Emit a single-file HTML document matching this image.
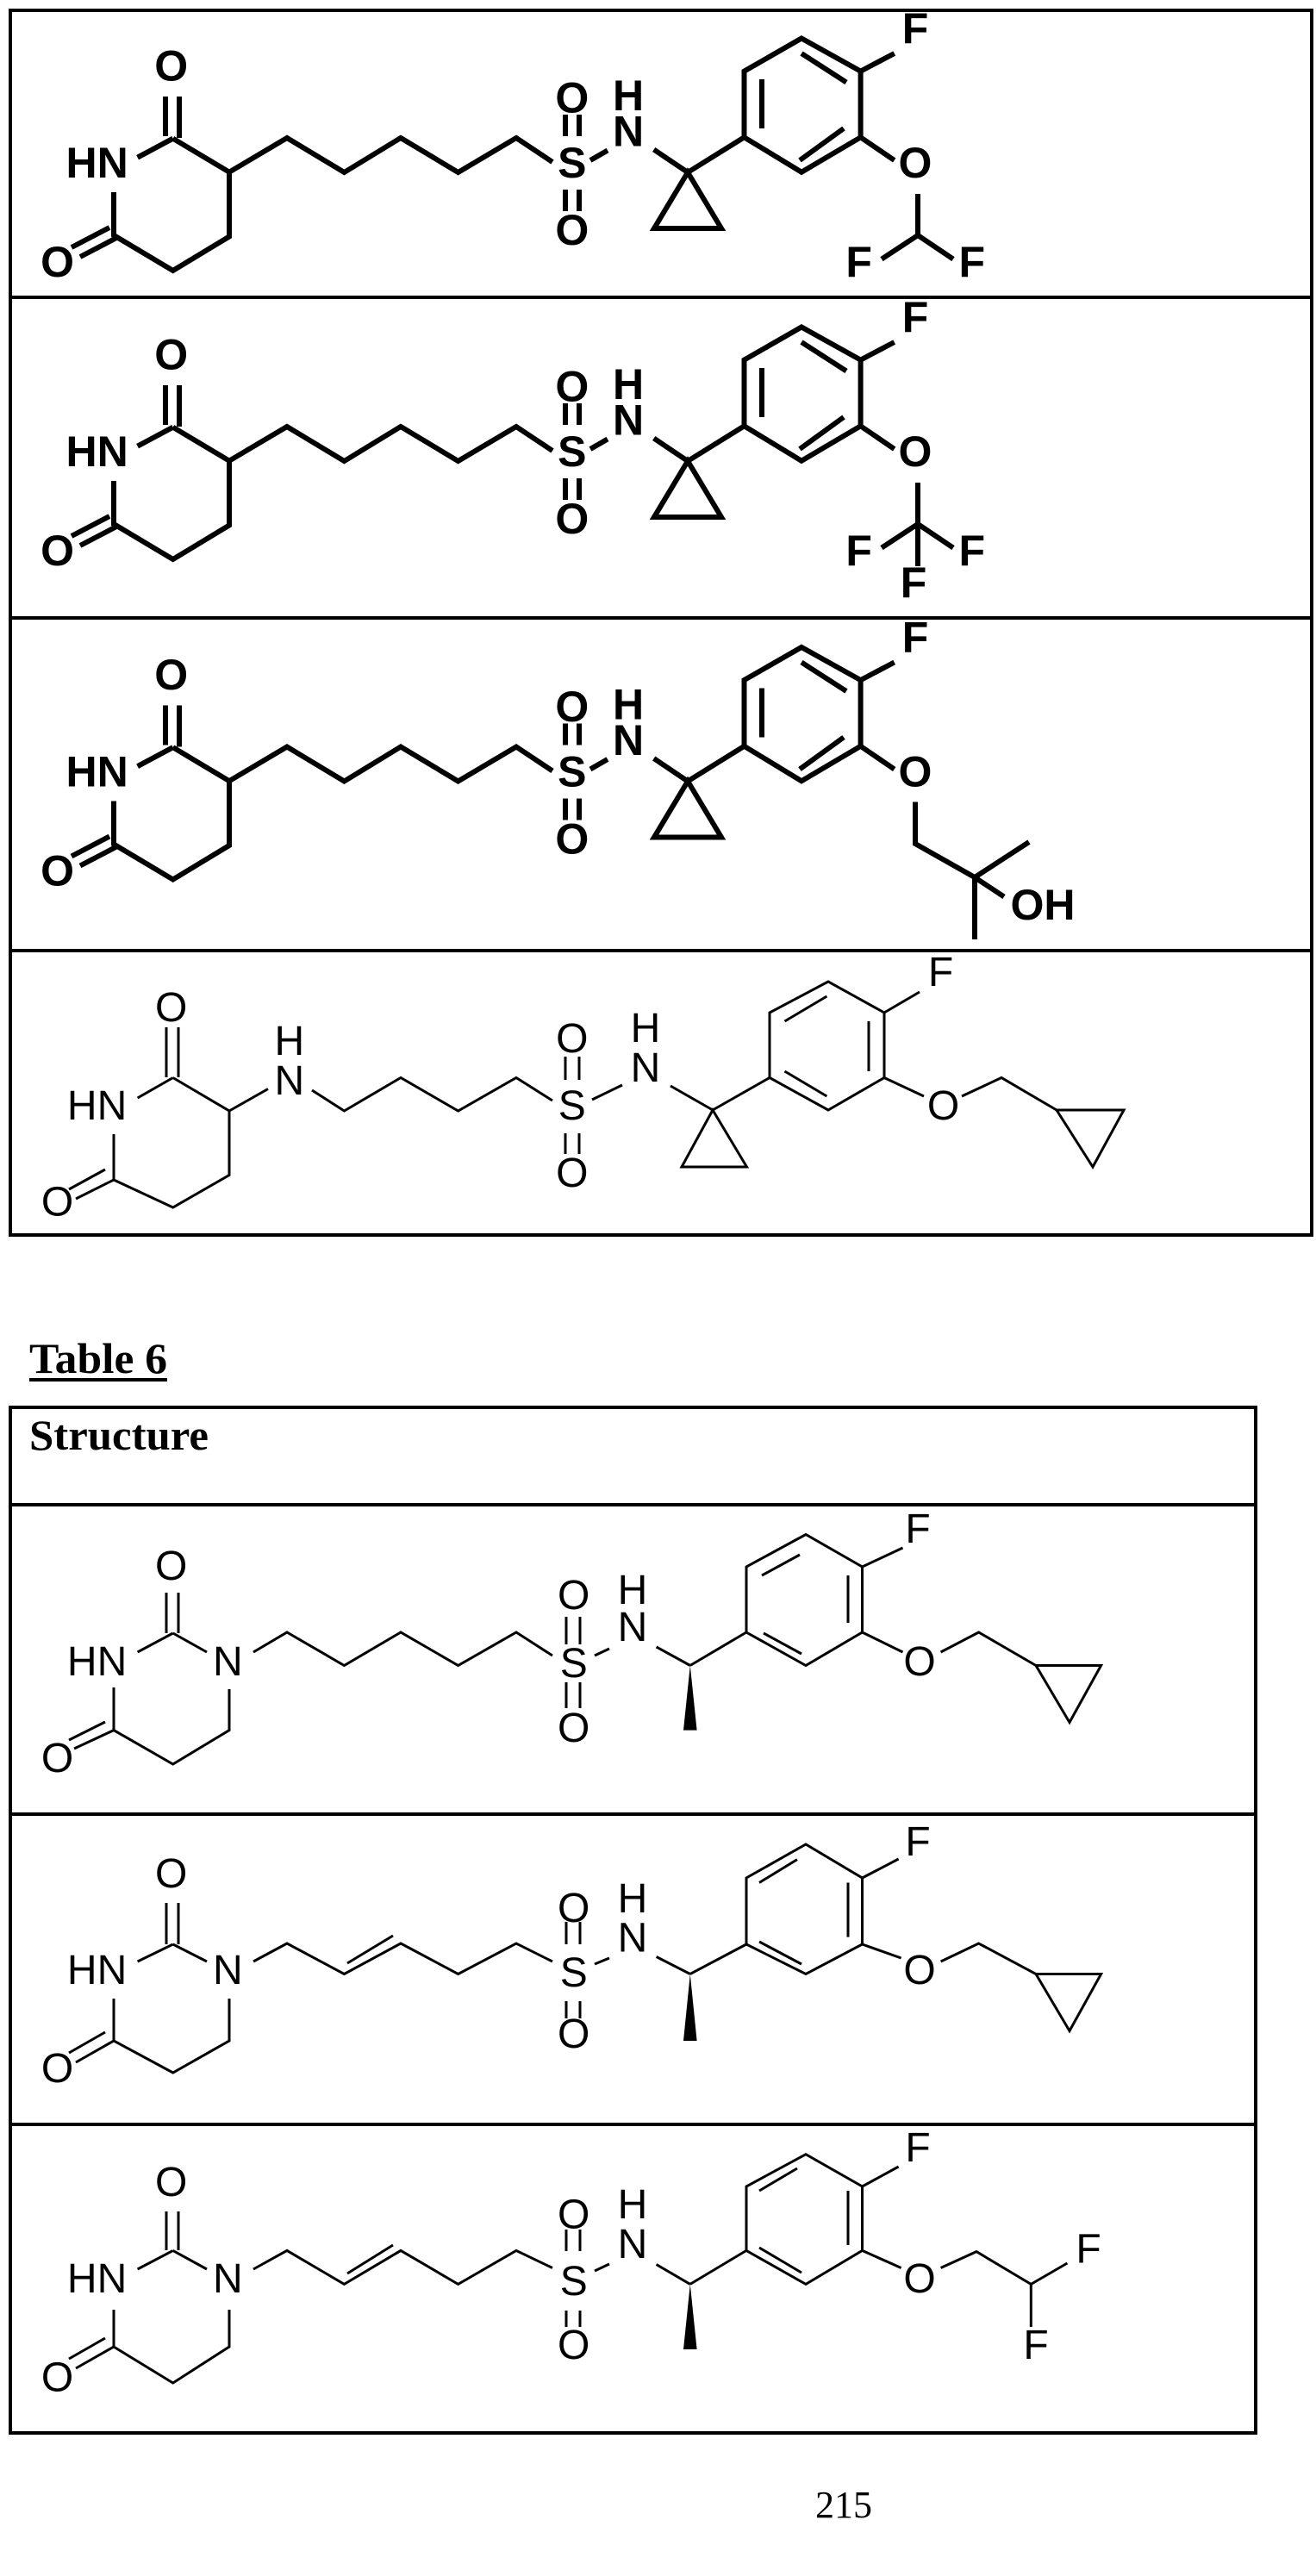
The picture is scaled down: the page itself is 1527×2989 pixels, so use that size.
<!DOCTYPE html>
<html><head><meta charset="utf-8"><style>
html,body{margin:0;padding:0;background:#fff;}
svg{display:block;}
.b{stroke:#000;stroke-width:6;fill:none;stroke-linejoin:miter;}
.t{stroke:#000;stroke-width:3;fill:none;stroke-linejoin:miter;}
.bt{font-family:"Liberation Sans",sans-serif;font-weight:bold;font-size:50px;text-anchor:middle;}
.tt{font-family:"Liberation Sans",sans-serif;font-size:48px;text-anchor:middle;}
.sf{font-family:"Liberation Serif",serif;font-weight:bold;font-size:50px;}
</style></head><body>
<svg width="1527" height="2989" viewBox="0 0 1527 2989" xmlns="http://www.w3.org/2000/svg">
<rect x="0" y="0" width="1527" height="2989" fill="#fff"/>
<g stroke="#000" stroke-width="4" fill="none">
<rect x="12" y="12" width="1510" height="1421"/>
<line x1="12" y1="345" x2="1522" y2="345"/>
<line x1="12" y1="717" x2="1522" y2="717"/>
<line x1="12" y1="1103" x2="1522" y2="1103"/>
</g>
<g stroke="#000" stroke-width="4" fill="none">
<rect x="12" y="1633" width="1445" height="1190"/>
<line x1="12" y1="1746" x2="1457" y2="1746"/>
<line x1="12" y1="2105" x2="1457" y2="2105"/>
<line x1="12" y1="2465" x2="1457" y2="2465"/>
</g>
<text class="sf" x="34" y="1593" textLength="160" lengthAdjust="spacingAndGlyphs">Table 6</text>
<rect x="34" y="1599" width="160" height="4" fill="#000"/>
<text class="sf" x="34" y="1682" textLength="208" lengthAdjust="spacingAndGlyphs">Structure</text>
<text x="979" y="2921" font-family="Liberation Serif,serif" font-size="44" text-anchor="middle">215</text>

<g id="r1">
<g class="b">
<line x1="159.6" y1="182.7" x2="200.7" y2="160.7"/>
<line x1="192" y1="112" x2="192" y2="158"/>
<line x1="208" y1="112" x2="208" y2="160"/>
<polyline points="200.7,160.7 266,199.7 266,274.5 200.7,314 132,273 132,223"/>
<line x1="137" y1="275" x2="93" y2="298"/>
<line x1="127" y1="264" x2="83" y2="287"/>
<polyline points="266,199.7 333,160 399.4,200 465,160 531.6,200 599,160 641,188"/>
<line x1="656" y1="133" x2="656" y2="158"/><line x1="672" y1="133" x2="672" y2="158"/>
<line x1="656" y1="220" x2="656" y2="245"/><line x1="672" y1="220" x2="672" y2="245"/>
<line x1="685" y1="186" x2="705" y2="174.5"/>
<line x1="758.7" y1="173.5" x2="798" y2="200"/>
<polygon points="798,200 759,265 837,265"/>
<line x1="798" y1="200" x2="863.5" y2="159.3"/>
<polygon points="863.5,159.3 863.5,82.6 930,44.5 998.6,82.6 998.6,159.3 930,199.7"/>
<line x1="884" y1="92" x2="884" y2="149"/>
<line x1="930" y1="62" x2="982" y2="95.5"/>
<line x1="928" y1="186" x2="979" y2="149"/>
<line x1="998.6" y1="82.6" x2="1037.7" y2="62"/>
<line x1="998.6" y1="159.3" x2="1037.7" y2="186"/>
</g>
<g class="bt">
<text x="198.7" y="93.7">O</text>
<text x="112.6" y="206">HN</text>
<text x="66.6" y="321">O</text>
<text x="663.8" y="206">S</text>
<text x="663.8" y="130.5">O</text>
<text x="663.8" y="284">O</text>
<text x="729" y="128">H</text>
<text x="729" y="169.5">N</text>
<text x="1062" y="50">F</text>
<text x="1062" y="206">O</text>
</g>
</g>
<g class="b">
<line x1="1065" y1="225" x2="1065" y2="273"/>
<line x1="1065" y1="273" x2="1023" y2="300.6"/>
<line x1="1065" y1="273" x2="1106" y2="300.6"/>
</g>
<g class="bt"><text x="996.6" y="321">F</text><text x="1127.8" y="321">F</text></g>

<g transform="translate(0,335)">
<g class="b">
<line x1="159.6" y1="182.7" x2="200.7" y2="160.7"/>
<line x1="192" y1="112" x2="192" y2="158"/>
<line x1="208" y1="112" x2="208" y2="160"/>
<polyline points="200.7,160.7 266,199.7 266,274.5 200.7,314 132,273 132,223"/>
<line x1="137" y1="275" x2="93" y2="298"/>
<line x1="127" y1="264" x2="83" y2="287"/>
<polyline points="266,199.7 333,160 399.4,200 465,160 531.6,200 599,160 641,188"/>
<line x1="656" y1="133" x2="656" y2="158"/><line x1="672" y1="133" x2="672" y2="158"/>
<line x1="656" y1="220" x2="656" y2="245"/><line x1="672" y1="220" x2="672" y2="245"/>
<line x1="685" y1="186" x2="705" y2="174.5"/>
<line x1="758.7" y1="173.5" x2="798" y2="200"/>
<polygon points="798,200 759,265 837,265"/>
<line x1="798" y1="200" x2="863.5" y2="159.3"/>
<polygon points="863.5,159.3 863.5,82.6 930,44.5 998.6,82.6 998.6,159.3 930,199.7"/>
<line x1="884" y1="92" x2="884" y2="149"/>
<line x1="930" y1="62" x2="982" y2="95.5"/>
<line x1="928" y1="186" x2="979" y2="149"/>
<line x1="998.6" y1="82.6" x2="1037.7" y2="62"/>
<line x1="998.6" y1="159.3" x2="1037.7" y2="186"/>
<line x1="1065" y1="225" x2="1065" y2="322"/>
<line x1="1065" y1="273" x2="1023" y2="300.6"/>
<line x1="1065" y1="273" x2="1106" y2="300.6"/>
</g>
<g class="bt">
<text x="198.7" y="93.7">O</text>
<text x="112.6" y="206">HN</text>
<text x="66.6" y="321">O</text>
<text x="663.8" y="206">S</text>
<text x="663.8" y="130.5">O</text>
<text x="663.8" y="284">O</text>
<text x="729" y="128">H</text>
<text x="729" y="169.5">N</text>
<text x="1062" y="50">F</text>
<text x="1062" y="206">O</text>
<text x="996.6" y="321">F</text><text x="1127.8" y="321">F</text>
<text x="1060" y="358">F</text>
</g>
</g>

<g transform="translate(0,706.5)">
<g class="b">
<line x1="159.6" y1="182.7" x2="200.7" y2="160.7"/>
<line x1="192" y1="112" x2="192" y2="158"/>
<line x1="208" y1="112" x2="208" y2="160"/>
<polyline points="200.7,160.7 266,199.7 266,274.5 200.7,314 132,273 132,223"/>
<line x1="137" y1="275" x2="93" y2="298"/>
<line x1="127" y1="264" x2="83" y2="287"/>
<polyline points="266,199.7 333,160 399.4,200 465,160 531.6,200 599,160 641,188"/>
<line x1="656" y1="133" x2="656" y2="158"/><line x1="672" y1="133" x2="672" y2="158"/>
<line x1="656" y1="220" x2="656" y2="245"/><line x1="672" y1="220" x2="672" y2="245"/>
<line x1="685" y1="186" x2="705" y2="174.5"/>
<line x1="758.7" y1="173.5" x2="798" y2="200"/>
<polygon points="798,200 759,265 837,265"/>
<line x1="798" y1="200" x2="863.5" y2="159.3"/>
<polygon points="863.5,159.3 863.5,82.6 930,44.5 998.6,82.6 998.6,159.3 930,199.7"/>
<line x1="884" y1="92" x2="884" y2="149"/>
<line x1="930" y1="62" x2="982" y2="95.5"/>
<line x1="928" y1="186" x2="979" y2="149"/>
<line x1="998.6" y1="82.6" x2="1037.7" y2="62"/>
<line x1="998.6" y1="159.3" x2="1037.7" y2="186"/>
<polyline points="1062,224 1062,272.5 1131,311.5 1194,270.5"/>
<line x1="1131" y1="311.5" x2="1131" y2="383.5"/>
<line x1="1131" y1="311.5" x2="1165" y2="334"/>
</g>
<g class="bt">
<text x="198.7" y="93.7">O</text>
<text x="112.6" y="206">HN</text>
<text x="66.6" y="321">O</text>
<text x="663.8" y="206">S</text>
<text x="663.8" y="130.5">O</text>
<text x="663.8" y="284">O</text>
<text x="729" y="128">H</text>
<text x="729" y="169.5">N</text>
<text x="1062" y="50">F</text>
<text x="1062" y="206">O</text>
<text x="1210" y="360.5">OH</text>
</g>
</g>

<g class="t">
<line x1="159.6" y1="1274" x2="200.7" y2="1250.5"/>
<line x1="193" y1="1192" x2="193" y2="1250"/>
<line x1="207" y1="1192" x2="207" y2="1250"/>
<polyline points="200.7,1250.5 266,1289 266,1363.5 200.7,1401 132,1369 132,1316"/>
<line x1="132" y1="1369" x2="88" y2="1391"/>
<line x1="122" y1="1357" x2="80" y2="1380"/>
<line x1="266" y1="1289" x2="311" y2="1263.5"/>
<polyline points="362,1265 399.4,1289 465,1250.5 531.6,1289 599,1250.5 641,1277"/>
<line x1="656" y1="1226" x2="656" y2="1253"/><line x1="672" y1="1226" x2="672" y2="1253"/>
<line x1="656" y1="1315" x2="656" y2="1339"/><line x1="672" y1="1315" x2="672" y2="1339"/>
<line x1="687" y1="1276" x2="722" y2="1259"/>
<line x1="778" y1="1260" x2="827" y2="1288"/>
<polygon points="827,1288 791,1354 866.5,1354"/>
<line x1="827" y1="1288" x2="893" y2="1250.5"/>
<polygon points="893,1250.5 893,1175 961,1139 1026,1175 1026,1250.5 961,1288"/>
<line x1="910.5" y1="1185" x2="959.4" y2="1156"/>
<line x1="910.5" y1="1243" x2="959.4" y2="1272"/>
<line x1="1008" y1="1185" x2="1008" y2="1243"/>
<line x1="1026" y1="1175" x2="1067" y2="1151"/>
<line x1="1026" y1="1250.5" x2="1072" y2="1272"/>
<polyline points="1116,1272 1162,1250.5 1226,1288"/>
<polygon points="1226,1288 1304,1288 1268,1354"/>
</g>
<g class="tt">
<text x="198.7" y="1185">O</text>
<text x="112.6" y="1299">HN</text>
<text x="66.6" y="1410.5">O</text>
<text x="335.8" y="1224">H</text>
<text x="335.8" y="1270">N</text>
<text x="663.8" y="1299">S</text>
<text x="663.8" y="1221">O</text>
<text x="663.8" y="1377">O</text>
<text x="749" y="1209">H</text>
<text x="749" y="1255">N</text>
<text x="1091.6" y="1144">F</text>
<text x="1094.5" y="1299">O</text>
</g>

<g class="t">
<line x1="159.6" y1="1917" x2="200.7" y2="1895"/>
<line x1="200.7" y1="1895" x2="240" y2="1917"/>
<line x1="193" y1="1848" x2="193" y2="1895"/>
<line x1="207" y1="1848" x2="207" y2="1895"/>
<polyline points="266,1960 266,2007.6 200.7,2047 132,2007.6 132,1958"/>
<line x1="132" y1="2007.6" x2="86" y2="2029"/>
<line x1="122" y1="1998" x2="80" y2="2019"/>
<polyline points="294,1917 333,1894 399.4,1932.5 465,1894 531.6,1932.5 599,1894 641,1921"/>
<line x1="657" y1="1876" x2="657" y2="1908"/><line x1="673" y1="1876" x2="673" y2="1908"/>
<line x1="657" y1="1952" x2="657" y2="1982"/><line x1="673" y1="1952" x2="673" y2="1982"/>
<line x1="690" y1="1921" x2="707" y2="1913"/>
<line x1="761.6" y1="1911" x2="800.8" y2="1932.5"/>
<line x1="800.8" y1="1932.5" x2="866" y2="1894"/>
<polygon points="866,1894 866,1818 935,1780.5 1000.5,1818 1000.5,1894 935,1932.5"/>
<line x1="884" y1="1828" x2="928" y2="1804"/>
<line x1="886" y1="1895" x2="930" y2="1919"/>
<line x1="984" y1="1828" x2="984" y2="1883"/>
<line x1="1000.5" y1="1818" x2="1047.5" y2="1796"/>
<line x1="1000.5" y1="1894" x2="1047.5" y2="1917"/>
<polyline points="1091.6,1917 1135.6,1894 1202,1932.5"/>
<polygon points="1202,1932.5 1277.6,1932.5 1241,1998.5"/>
</g>
<polygon points="800.8,1932.5 793,2007.6 808.6,2007.6" fill="#000"/>
<g class="tt">
<text x="198.7" y="1833">O</text>
<text x="112.6" y="1944">HN</text>
<text x="264.3" y="1944">N</text>
<text x="66.6" y="2056">O</text>
<text x="665.7" y="1946">S</text>
<text x="665.7" y="1867">O</text>
<text x="665.7" y="2021">O</text>
<text x="734" y="1904">N</text>
<text x="734" y="1861">H</text>
<text x="1065" y="1790">F</text>
<text x="1067" y="1944">O</text>
</g>

<g class="t">
<line x1="159.6" y1="2276" x2="200.7" y2="2256"/>
<line x1="200.7" y1="2256" x2="240" y2="2276"/>
<line x1="193" y1="2208" x2="193" y2="2256"/>
<line x1="207" y1="2208" x2="207" y2="2256"/>
<polyline points="266,2319 266,2368 200.7,2405 132,2368 132,2319"/>
<line x1="132" y1="2368" x2="88" y2="2393"/>
<line x1="122" y1="2358" x2="80" y2="2382"/>
<polyline points="294,2276 333,2255 399.4,2290.5 465,2255 531.6,2290.5 599,2255 641,2276"/>
<line x1="403" y1="2278" x2="456" y2="2246"/>
<line x1="657" y1="2230" x2="657" y2="2256"/><line x1="673" y1="2230" x2="673" y2="2256"/>
<line x1="657" y1="2322" x2="657" y2="2342"/><line x1="673" y1="2322" x2="673" y2="2342"/>
<line x1="690" y1="2279" x2="707" y2="2272"/>
<line x1="761.6" y1="2270.5" x2="800.8" y2="2290.5"/>
<line x1="800.8" y1="2290.5" x2="866" y2="2256"/>
<polygon points="866,2256 866,2179 935,2140 1000.5,2179 1000.5,2256 935,2290.5"/>
<line x1="881" y1="2184.5" x2="925" y2="2157.6"/>
<line x1="881" y1="2253" x2="930" y2="2279"/>
<line x1="984" y1="2184.5" x2="984" y2="2247.6"/>
<line x1="1000.5" y1="2179" x2="1042.6" y2="2157"/>
<line x1="1000.5" y1="2256" x2="1045.6" y2="2272"/>
<polyline points="1091.6,2276 1135.6,2255 1202,2290.5"/>
<polygon points="1202,2290.5 1277.6,2290.5 1241,2356.5"/>
</g>
<polygon points="800.8,2290.5 793,2368 808.6,2368" fill="#000"/>
<g class="tt">
<text x="198.7" y="2190">O</text>
<text x="112.6" y="2302">HN</text>
<text x="264.3" y="2302">N</text>
<text x="66.6" y="2416">O</text>
<text x="665.7" y="2305">S</text>
<text x="665.7" y="2230">O</text>
<text x="665.7" y="2376">O</text>
<text x="734" y="2264.5">N</text>
<text x="734" y="2219">H</text>
<text x="1065" y="2153">F</text>
<text x="1067" y="2302">O</text>
</g>

<g class="t">
<line x1="159.6" y1="2633" x2="200.7" y2="2611.4"/>
<line x1="200.7" y1="2611.4" x2="240" y2="2633"/>
<line x1="193" y1="2566" x2="193" y2="2611"/>
<line x1="207" y1="2566" x2="207" y2="2611"/>
<polyline points="266,2680 266,2723 200.7,2765 132,2723 132,2680"/>
<line x1="132" y1="2723" x2="88" y2="2748"/>
<line x1="122" y1="2713" x2="80" y2="2737"/>
<polyline points="294,2633 333,2611.4 399.4,2650.4 465,2611.4 531.6,2650.4 599,2611.4 641,2631.5"/>
<line x1="403" y1="2638" x2="456" y2="2605"/>
<line x1="657" y1="2587" x2="657" y2="2612"/><line x1="673" y1="2587" x2="673" y2="2612"/>
<line x1="657" y1="2681" x2="657" y2="2700"/><line x1="673" y1="2681" x2="673" y2="2700"/>
<line x1="690" y1="2635" x2="707" y2="2627"/>
<line x1="761.6" y1="2627.5" x2="800.8" y2="2650.4"/>
<line x1="800.8" y1="2650.4" x2="866" y2="2611.4"/>
<polygon points="866,2611.4 866,2537 935,2499.7 1000.5,2537 1000.5,2611.4 935,2650.4"/>
<line x1="881" y1="2542" x2="925" y2="2516"/>
<line x1="881" y1="2608" x2="930" y2="2637"/>
<line x1="984" y1="2542" x2="984" y2="2605"/>
<line x1="1000.5" y1="2537" x2="1042.6" y2="2514"/>
<line x1="1000.5" y1="2611.4" x2="1045.6" y2="2631.5"/>
<polyline points="1091.6,2631.5 1133,2612.6 1196.3,2650.4 1238.4,2626"/>
<line x1="1196.3" y1="2650.4" x2="1196.3" y2="2700"/>
</g>
<polygon points="800.8,2650.4 793,2726 808.6,2726" fill="#000"/>
<g class="tt">
<text x="198.7" y="2548">O</text>
<text x="112.6" y="2660">HN</text>
<text x="264.3" y="2660">N</text>
<text x="66.6" y="2774.5">O</text>
<text x="665.7" y="2663">S</text>
<text x="665.7" y="2585.5">O</text>
<text x="665.7" y="2737">O</text>
<text x="734" y="2620">N</text>
<text x="734" y="2574">H</text>
<text x="1065" y="2508">F</text>
<text x="1067" y="2660">O</text>
<text x="1263" y="2625.6">F</text>
<text x="1202" y="2737">F</text>
</g>
</svg>
</body></html>
